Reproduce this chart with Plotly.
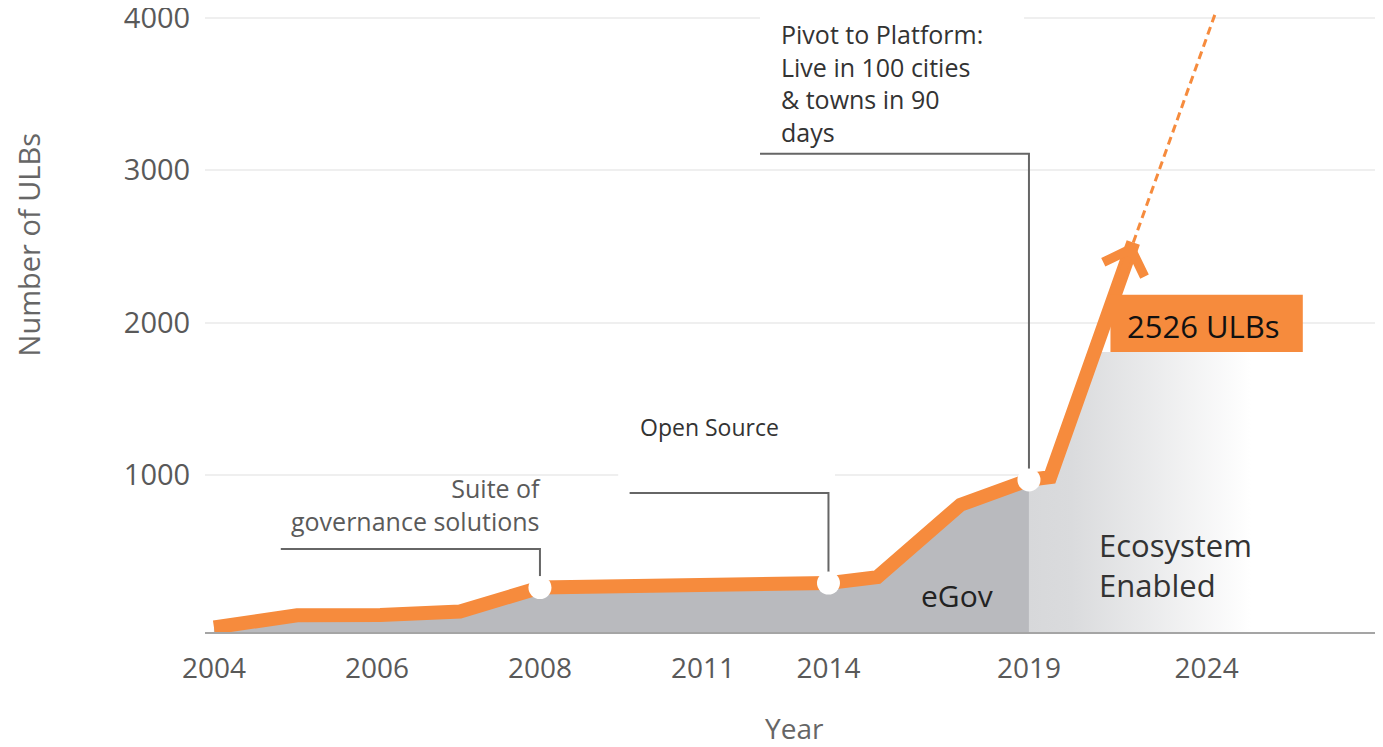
import plotly.graph_objects as go

# ---------------- data ----------------
# x positions are axis positions (the chart uses a non-uniform year axis)
tick_pos = [0, 1, 2, 3, 3.77, 5.0, 6.09]
tick_text = ["2004", "2006", "2008", "2011", "2014", "2019", "2024"]

line_pos = [0, 0.51, 1.02, 1.51, 2.0, 3.6, 3.77, 4.07, 4.58, 5.0, 5.13, 5.64]
line_val = [0, 80, 82, 105, 262, 272, 291, 330, 805, 968, 986, 2526]

# projection (dashed) beyond the arrow tip
proj_pos = [5.64, 6.14]
proj_val = [2526, 4020]

# "Ecosystem Enabled" light area
eco_pos = [5.0, 5.13, 5.40, 7.2]
eco_val = [968, 986, 1808, 1808]

# milestones (white dots) and their callouts
ms_pos = [2.0, 3.77, 5.0]
ms_val = [262, 291, 968]
callout_level = [514, 882, 3108]
callout_start = [0.41, 2.55, 3.35]

y_ticks = [1000, 2000, 3000, 4000]
Y_MIN, Y_MAX = -30, 4052
X_MIN, X_MAX = -0.055, 7.172

ORANGE = "#F68B3D"
DARK_FILL = "#b9babe"
FONT = "Open Sans"

fig = go.Figure()

# dark eGov area (up to 2019)
n_dark = line_pos.index(5.0) + 1
dx = line_pos[:n_dark]
dy = line_val[:n_dark]
fig.add_trace(go.Scatter(
    x=dx + [dx[-1], dx[0]], y=dy + [Y_MIN, Y_MIN],
    fill="toself", fillcolor=DARK_FILL, mode="lines",
    line=dict(width=0), hoverinfo="skip", showlegend=False))

# light ecosystem area with fade to white
fig.add_trace(go.Scatter(
    x=eco_pos + [eco_pos[-1], eco_pos[0]], y=eco_val + [Y_MIN, Y_MIN],
    fill="toself", mode="lines", line=dict(width=0),
    fillgradient=dict(type="horizontal",
                      colorscale=[[0, "#d7d8da"], [0.12, "#dadbdd"],
                                  [0.62, "#ffffff"], [1, "#ffffff"]]),
    hoverinfo="skip", showlegend=False))

# callout connectors
for p, v, lvl, st in zip(ms_pos, ms_val, callout_level, callout_start):
    fig.add_trace(go.Scatter(
        x=[st, p, p], y=[lvl, lvl, v], mode="lines",
        line=dict(color="#666666", width=2), hoverinfo="skip", showlegend=False))

# dashed projection
fig.add_trace(go.Scatter(
    x=proj_pos, y=proj_val, mode="lines",
    line=dict(color=ORANGE, width=3, dash="8px,5px"),
    hoverinfo="skip", showlegend=False))

# main orange line
fig.add_trace(go.Scatter(
    x=line_pos, y=line_val, mode="lines",
    line=dict(color=ORANGE, width=14),
    hoverinfo="skip", showlegend=False))

# milestone dots
fig.add_trace(go.Scatter(
    x=ms_pos, y=ms_val, mode="markers",
    marker=dict(color="white", size=23, line=dict(width=0)),
    hoverinfo="skip", showlegend=False))

shapes = [
    # white boxes behind callout texts (hide gridlines)
    dict(type="rect", xref="x", yref="y", x0=2.48, x1=3.81, y0=934, y1=1591,
         fillcolor="white", line=dict(width=0), layer="between"),
    dict(type="rect", xref="x", yref="y", x0=3.35, x1=4.97, y0=3180, y1=Y_MAX,
         fillcolor="white", line=dict(width=0), layer="between"),
    # orange label box
    dict(type="rect", xref="x", yref="y", x0=5.5, x1=6.68, y0=1808, y1=2183,
         fillcolor=ORANGE, line=dict(width=0), layer="above"),
]

annotations = [
    # arrow head
    dict(x=line_pos[-1], y=line_val[-1], ax=5.56, ay=2280, axref="x", ayref="y",
         xref="x", yref="y", text="", showarrow=True, arrowhead=4,
         arrowsize=1.2, arrowwidth=7, arrowcolor=ORANGE, standoff=0),
    dict(x=6.07, y=1980, xref="x", yref="y", text="2526 ULBs", showarrow=False,
         font=dict(family=FONT, size=31, color="#111111")),
    dict(x=2.02, y=804, xref="x", yref="y", text="Suite of<br>governance solutions",
         showarrow=False, xanchor="right", yanchor="middle", align="right",
         font=dict(family=FONT, size=25, color="#5a5a5a")),
    dict(x=3.04, y=1315, xref="x", yref="y", text="Open Source", showarrow=False,
         font=dict(family=FONT, size=23, color="#333333")),
    dict(x=3.466, y=3575, xref="x", yref="y",
         text="Pivot to Platform:<br>Live in 100 cities<br>&amp; towns in 90<br>days",
         showarrow=False, xanchor="left", yanchor="middle", align="left",
         font=dict(family=FONT, size=25, color="#333333")),
    dict(x=4.56, y=208, xref="x", yref="y", text="eGov", showarrow=False,
         font=dict(family=FONT, size=30, color="#222222")),
    dict(x=5.42, y=409, xref="x", yref="y", text="Ecosystem<br>Enabled",
         showarrow=False, xanchor="left", yanchor="middle", align="left",
         font=dict(family=FONT, size=31, color="#333333")),
    # axis titles
    dict(x=-0.150, y=0.622, xref="paper", yref="paper", text="Number of ULBs",
         textangle=-90, showarrow=False, xanchor="center", yanchor="middle",
         font=dict(family=FONT, size=29, color="#666666")),
    dict(x=0.5, y=-0.155, xref="paper", yref="paper", text="Year",
         showarrow=False, xanchor="center", yanchor="middle",
         font=dict(family=FONT, size=28, color="#666666")),
]

# the page body has an 8px margin; margins compensate so the plot area
# lands at the same place as in the reference
fig.update_layout(
    width=1383, height=747,
    margin=dict(l=197, r=8, t=2, b=123, autoexpand=False),
    paper_bgcolor="white", plot_bgcolor="white",
    shapes=shapes, annotations=annotations,
    font=dict(family=FONT),
    xaxis=dict(range=[X_MIN, X_MAX], tickvals=tick_pos, ticktext=tick_text,
               showgrid=False, zeroline=False, showline=True, automargin=False,
               linecolor="#a5a5a5", linewidth=2,
               ticks="outside", ticklen=10, tickcolor="rgba(0,0,0,0)",
               tickfont=dict(family=FONT, size=28, color="#595959")),
    yaxis=dict(range=[Y_MIN, Y_MAX], tickvals=y_ticks, automargin=False,
               showgrid=True, gridcolor="#efefef", gridwidth=2,
               zeroline=False, showline=False, ticklabeloverflow="allow",
               ticks="outside", ticklen=8, tickcolor="rgba(0,0,0,0)",
               tickfont=dict(family=FONT, size=29, color="#595959")),
)

fig.write_html("out.html")
